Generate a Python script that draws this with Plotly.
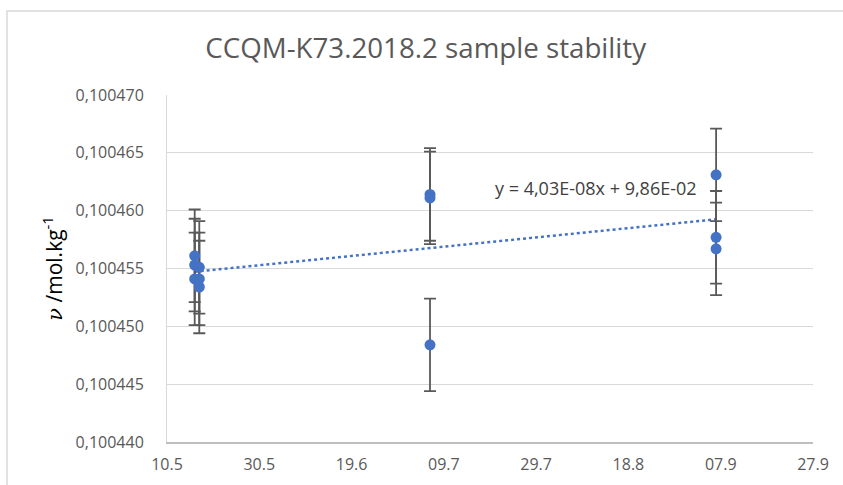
import numpy as np
import pandas as pd
from plotly.graph_objs import Scatter, Figure

# measurement dates and amount content (mol/kg)
dates = ['2018-05-16', '2018-05-16', '2018-05-16',
         '2018-05-17', '2018-05-17', '2018-05-17',
         '2018-07-06', '2018-07-06', '2018-07-06',
         '2018-09-06', '2018-09-06', '2018-09-06']
values = [0.1004561, 0.1004553, 0.1004541,
          0.1004551, 0.1004541, 0.1004534,
          0.1004614, 0.1004611, 0.1004484,
          0.1004631, 0.1004577, 0.1004567]
uncert = [0.0000040] * 12

trend_label = 'y = 4,03E-08x + 9,86E-02'
title = 'CCQM-K73.2018.2 sample stability'
ytitle = "<span style='font-family:DejaVu Serif'><i>ν</i></span> /mol.kg<sup>-1</sup>"

blue = '#4472C4'
grey_txt = '#595959'
font = 'Open Sans'

# linear trend like excel (x in days)
d = pd.to_datetime(pd.Series(dates))
days = (d - d.min()).dt.days.values
slope, icpt = np.polyfit(days, values, 1)
tx = [d.min(), d.max()]
ty = [icpt + slope * (t - d.min()).days for t in tx]

fig = Figure()
fig.add_trace(Scatter(x=tx, y=ty, mode='lines',
                      line=dict(color=blue, width=2.5, dash='dot'),
                      hoverinfo='skip'))
fig.add_trace(Scatter(x=pd.to_datetime(dates), y=values, mode='markers',
                      marker=dict(color=blue, size=11),
                      error_y=dict(type='data', array=uncert, color=grey_txt,
                                   thickness=1.8, width=6)))

fig.update_layout(
    width=843, height=485,
    margin=dict(l=167, r=30, t=95, b=43),
    paper_bgcolor='white', plot_bgcolor='white',
    showlegend=False,
    separators=', ',
    font=dict(family=font, color=grey_txt, size=16),
    title=dict(text=title, x=0.505, xanchor='center', y=0.90, yanchor='middle',
               font=dict(family=font, size=27.7, color=grey_txt)),
)
fig.update_xaxes(type='date', range=['2018-05-10', '2018-09-27'],
                 tick0='2018-05-10', dtick=20 * 86400000, tickformat='%d.%-m',
                 showgrid=False, showline=True, linecolor='#BFBFBF', linewidth=1.5,
                 zeroline=False, ticks='', ticklabelstandoff=7, automargin=False,
                 tickfont=dict(size=16, color=grey_txt))
fig.update_yaxes(range=[0.100440, 0.100470], dtick=0.000005, tickformat='.6f',
                 showgrid=True, gridcolor='#D9D9D9', gridwidth=1,
                 showline=True, linecolor='#D9D9D9', linewidth=1,
                 zeroline=False, ticks='', ticklabelstandoff=19, automargin=False,
                 tickfont=dict(size=16, color=grey_txt),
                 title=dict(text=ytitle, standoff=7,
                            font=dict(size=21, color='black')))

fig.add_annotation(x='2018-08-11', y=0.100462, xref='x', yref='y',
                   text=trend_label, showarrow=False,
                   font=dict(family=font, size=18, color='#404040'))

# chart frame
fig.add_shape(type='rect', xref='paper', yref='paper',
              x0=-160 / 646, x1=1.2, y0=-0.3, y1=1 + 84 / 347,
              line=dict(color='#D9D9D9', width=1.5), layer='below')

fig.write_html('out.html', config={'displayModeBar': False},
               post_script="document.body.style.margin='0';")
